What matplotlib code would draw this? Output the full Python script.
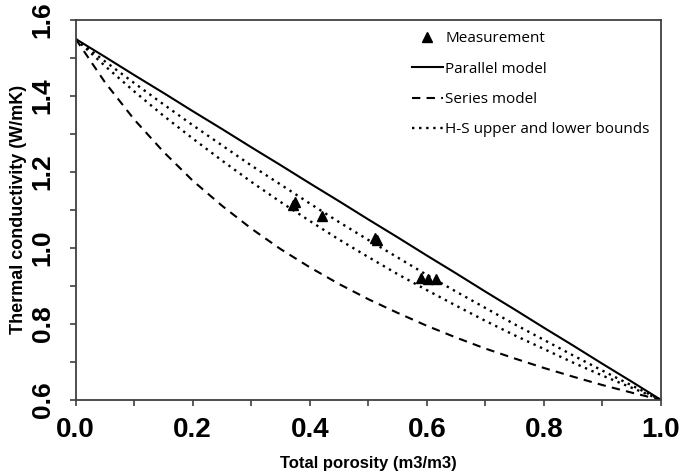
import matplotlib
matplotlib.use("Agg")
import matplotlib.pyplot as plt
from matplotlib.ticker import MultipleLocator

# porosity grid the model curves were read at
porosity = [0.00, 0.05, 0.10, 0.15, 0.20, 0.25, 0.30, 0.35, 0.40, 0.45, 0.50,
            0.55, 0.60, 0.65, 0.70, 0.75, 0.80, 0.85, 0.90, 0.95, 1.00]

parallel_k = [1.550, 1.503, 1.455, 1.408, 1.360, 1.313, 1.265, 1.218, 1.170, 1.123, 1.075,
              1.028, 0.980, 0.933, 0.885, 0.838, 0.790, 0.743, 0.695, 0.648, 0.600]
series_k = [1.550, 1.436, 1.338, 1.253, 1.177, 1.111, 1.051, 0.997, 0.949, 0.905, 0.865,
            0.829, 0.795, 0.764, 0.735, 0.709, 0.684, 0.661, 0.639, 0.619, 0.600]
hs_upper_k = [1.550, 1.491, 1.434, 1.378, 1.323, 1.270, 1.217, 1.167, 1.117, 1.068, 1.021,
              0.975, 0.929, 0.885, 0.842, 0.799, 0.758, 0.717, 0.677, 0.638, 0.600]
hs_lower_k = [1.550, 1.479, 1.412, 1.348, 1.288, 1.230, 1.174, 1.121, 1.071, 1.022, 0.976,
              0.931, 0.889, 0.848, 0.808, 0.770, 0.734, 0.698, 0.664, 0.632, 0.600]

# measured points
meas_porosity = [0.371, 0.375, 0.421, 0.512, 0.515, 0.590, 0.602, 0.615]
meas_k = [1.113, 1.121, 1.084, 1.027, 1.021, 0.921, 0.918, 0.918]

fig = plt.figure(figsize=(6.82, 4.76), dpi=100)
ax = fig.add_axes([0.111, 0.160, 0.858, 0.798])

ax.plot(meas_porosity, meas_k, linestyle="none", marker="^", markersize=7,
        color="black", label="Measurement")
ax.plot(porosity, parallel_k, color="black", linewidth=1.5, label="Parallel model")
ax.plot(porosity, series_k, color="black", linewidth=1.5,
        linestyle=(0, (4, 3)), label="Series model")
ax.plot(porosity, hs_upper_k, color="black", linewidth=1.7,
        linestyle=(0, (1, 2.0)), label="H-S upper and lower bounds")
ax.plot(porosity, hs_lower_k, color="black", linewidth=1.7,
        linestyle=(0, (1, 2.0)))

ax.set_xlim(0, 1.0)
ax.set_ylim(0.6, 1.6)
ax.xaxis.set_major_locator(MultipleLocator(0.2))
ax.xaxis.set_minor_locator(MultipleLocator(0.1))
ax.yaxis.set_major_locator(MultipleLocator(0.2))
ax.yaxis.set_minor_locator(MultipleLocator(0.1))
ax.tick_params(which="both", direction="out", length=4, width=1.2, color="#404040")
ax.tick_params(axis="x", which="major", pad=8)
ax.tick_params(axis="y", which="major", pad=11)

for spine in ax.spines.values():
    spine.set_color("#404040")
    spine.set_linewidth(1.3)

for lbl in ax.get_xticklabels():
    lbl.set_fontfamily("Liberation Sans")
    lbl.set_fontweight("bold")
    lbl.set_fontsize(20)
for lbl in ax.get_yticklabels():
    lbl.set_fontfamily("Liberation Sans")
    lbl.set_fontweight("bold")
    lbl.set_fontsize(19)
    lbl.set_rotation(90)
    lbl.set_verticalalignment("center")

ax.set_xlabel("Total porosity (m3/m3)", fontfamily="Liberation Sans",
              fontweight="bold", fontsize=12, labelpad=10)
ax.set_ylabel("Thermal conductivity (W/mK)", fontfamily="Liberation Sans",
              fontweight="bold", fontsize=13, labelpad=3)

ax.legend(loc="upper left", bbox_to_anchor=(0.575, 0.97), frameon=False,
          prop={"family": "Open Sans", "size": 11}, handlelength=2.0,
          handletextpad=0.15, labelspacing=1.0, borderaxespad=0, borderpad=0)

fig.savefig("out.png", dpi=100)
